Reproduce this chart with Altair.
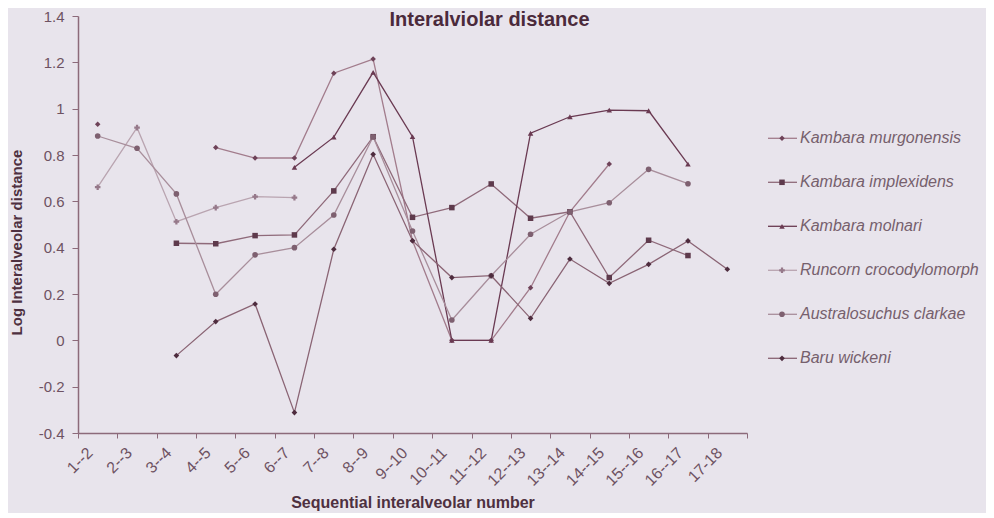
import altair as alt
import pandas as pd

FONT = "Liberation Sans"

categories = ["1--2", "2--3", "3--4", "4--5", "5--6", "6--7", "7--8", "8--9", "9--10",
              "10--11", "11--12", "12--13", "13--14", "14--15", "15--16", "16--17", "17-18"]

species = ["Kambara murgonensis", "Kambara implexidens", "Kambara molnari",
           "Runcorn crocodylomorph", "Australosuchus clarkae", "Baru wickeni"]

N = None
murgonensis = [0.933, N, N, 0.832, 0.787, 0.787, 1.153, 1.214, 0.43, 0.0, 0.0, 0.227, 0.555, 0.761, N, N, N]
implexidens = [N, N, 0.419, 0.417, 0.452, 0.455, 0.645, 0.879, 0.531, 0.573, 0.675, 0.527, 0.555, 0.271, 0.432, 0.366, N]
molnari = [N, N, N, N, N, 0.747, 0.877, 1.157, 0.879, 0.0, 0.0, 0.894, 0.965, 0.994, 0.991, 0.761, N]
runcorn = [0.661, 0.918, 0.512, 0.573, 0.62, 0.616, N, N, N, N, N, N, N, N, N, N, N]
australosuchus = [0.882, 0.829, 0.632, 0.199, 0.369, 0.4, 0.541, 0.879, 0.472, 0.088, 0.279, 0.458, 0.555, 0.594, 0.738, 0.676, N]
baru = [N, N, -0.066, 0.081, 0.157, -0.312, 0.393, 0.803, 0.43, 0.271, 0.279, 0.095, 0.351, 0.246, 0.328, 0.429, 0.307]

series_values = [murgonensis, implexidens, molnari, runcorn, australosuchus, baru]

y_ticks = [-0.4, -0.2, 0, 0.2, 0.4, 0.6, 0.8, 1, 1.2, 1.4]

line_colors = ["#a27c8c", "#8f6a7a", "#6a3a52", "#b9a4b0", "#a88e9b", "#8a6474"]
marker_colors = ["#6e4258", "#5e3a4c", "#6a3a52", "#96798a", "#7e6070", "#4e2c3e"]
marker_shapes = ["diamond", "square", "triangle-up", "cross", "circle", "diamond"]
marker_sizes = [30, 32, 46, 14, 14, 32]
line_widths = [1.3, 1.3, 2.4, 1.2, 1.2, 1.3]

rows = []
for sp, vals in zip(species, series_values):
    for cat, v in zip(categories, vals):
        rows.append({"cat": cat, "species": sp, "value": v})
df = pd.DataFrame(rows)
legend_df = pd.DataFrame({"species": species})

axis_color = "#8c6a7a"
label_color = "#6e5262"

x_enc = alt.X(
    "cat:O", sort=categories, bandPosition=0.5,
    scale=alt.Scale(type="band", domain=categories, paddingInner=0, paddingOuter=0),
    axis=alt.Axis(
        title="Sequential interalveolar number", labelAngle=-45, labelAlign="right",
        labelBaseline="middle", tickBand="extent", tickSize=5, labelPadding=12,
        labelOffset=-8, labelFontSize=16, labelFont=FONT, labelColor=label_color,
        titleFontSize=16, titleFont=FONT, titleFontWeight="bold", titleColor="#4e3040",
        titleY=74, titleBaseline="alphabetic", domainColor=axis_color, tickColor=axis_color,
        domainWidth=1.5, grid=False, labelOverlap=False,
    ),
)
y_enc = alt.Y(
    "value:Q",
    scale=alt.Scale(domain=[-0.4, 1.4], nice=False, zero=False),
    axis=alt.Axis(
        values=y_ticks, labelExpr="'' + datum.value", title="Log Interalveolar distance",
        grid=False, tickSize=6, labelPadding=8, labelFontSize=15, labelFont=FONT,
        labelColor=label_color, titleFontSize=15, titleFont=FONT, titleFontWeight="bold",
        titleColor="#4e3040", titleX=-62, titleY=226, titleBaseline="middle",
        domainColor=axis_color, tickColor=axis_color, domainWidth=1.5,
    ),
)

color_scale = alt.Scale(domain=species, range=line_colors)
fill_scale = alt.Scale(domain=species, range=marker_colors)
shape_scale = alt.Scale(domain=species, range=marker_shapes)
size_scale = alt.Scale(domain=species, range=marker_sizes)
width_scale = alt.Scale(domain=species, range=line_widths)

base = alt.Chart(df)
lines = base.mark_line(invalid="break-paths-show-domains").encode(
    x=x_enc, y=y_enc,
    color=alt.Color("species:N", scale=color_scale, legend=None),
    strokeWidth=alt.StrokeWidth("species:N", scale=width_scale, legend=None),
    detail="species:N",
)
points = base.mark_point(filled=True, opacity=1, strokeWidth=0).encode(
    x=x_enc, y=y_enc,
    fill=alt.Fill("species:N", scale=fill_scale, legend=None),
    shape=alt.Shape("species:N", scale=shape_scale, legend=None),
    size=alt.Size("species:N", scale=size_scale, legend=None),
)
main = alt.layer(lines, points)

leg_y = alt.Y("species:N", sort=species,
              scale=alt.Scale(type="point", domain=species, range=[122.3, 342.3], padding=0),
              axis=None)
leg_base = alt.Chart(legend_df)
leg_rule = leg_base.mark_rule().encode(
    x=alt.value(690), x2=alt.value(719), y=leg_y,
    color=alt.Color("species:N", scale=color_scale, legend=None),
    strokeWidth=alt.StrokeWidth("species:N", scale=width_scale, legend=None),
)
leg_pt = leg_base.mark_point(filled=True, opacity=1, strokeWidth=0).encode(
    x=alt.value(704), y=leg_y,
    fill=alt.Fill("species:N", scale=fill_scale, legend=None),
    shape=alt.Shape("species:N", scale=shape_scale, legend=None),
    size=alt.Size("species:N", scale=size_scale, legend=None),
)
leg_txt = leg_base.mark_text(align="left", baseline="middle", font=FONT, fontSize=16,
                             fontStyle="italic", color="#76606c").encode(
    x=alt.value(722), y=leg_y, text="species:N",
)
legend = alt.layer(leg_rule, leg_pt, leg_txt)

chart = alt.layer(main, legend).resolve_scale(y="independent").properties(
    width=669, height=417,
    title=alt.TitleParams("Interalviolar distance", fontSize=20, fontWeight="bold", font=FONT,
                          color="#4b2a3b", anchor="middle", dx=77, dy=25),
    padding={"left": 70, "top": 8, "right": 239, "bottom": 80},
    autosize=alt.AutoSizeParams(type="none"),
    background="#e8e4ec",
).configure_view(stroke=None)

chart.save("out.html", embed_options={"renderer": "svg", "actions": False})
